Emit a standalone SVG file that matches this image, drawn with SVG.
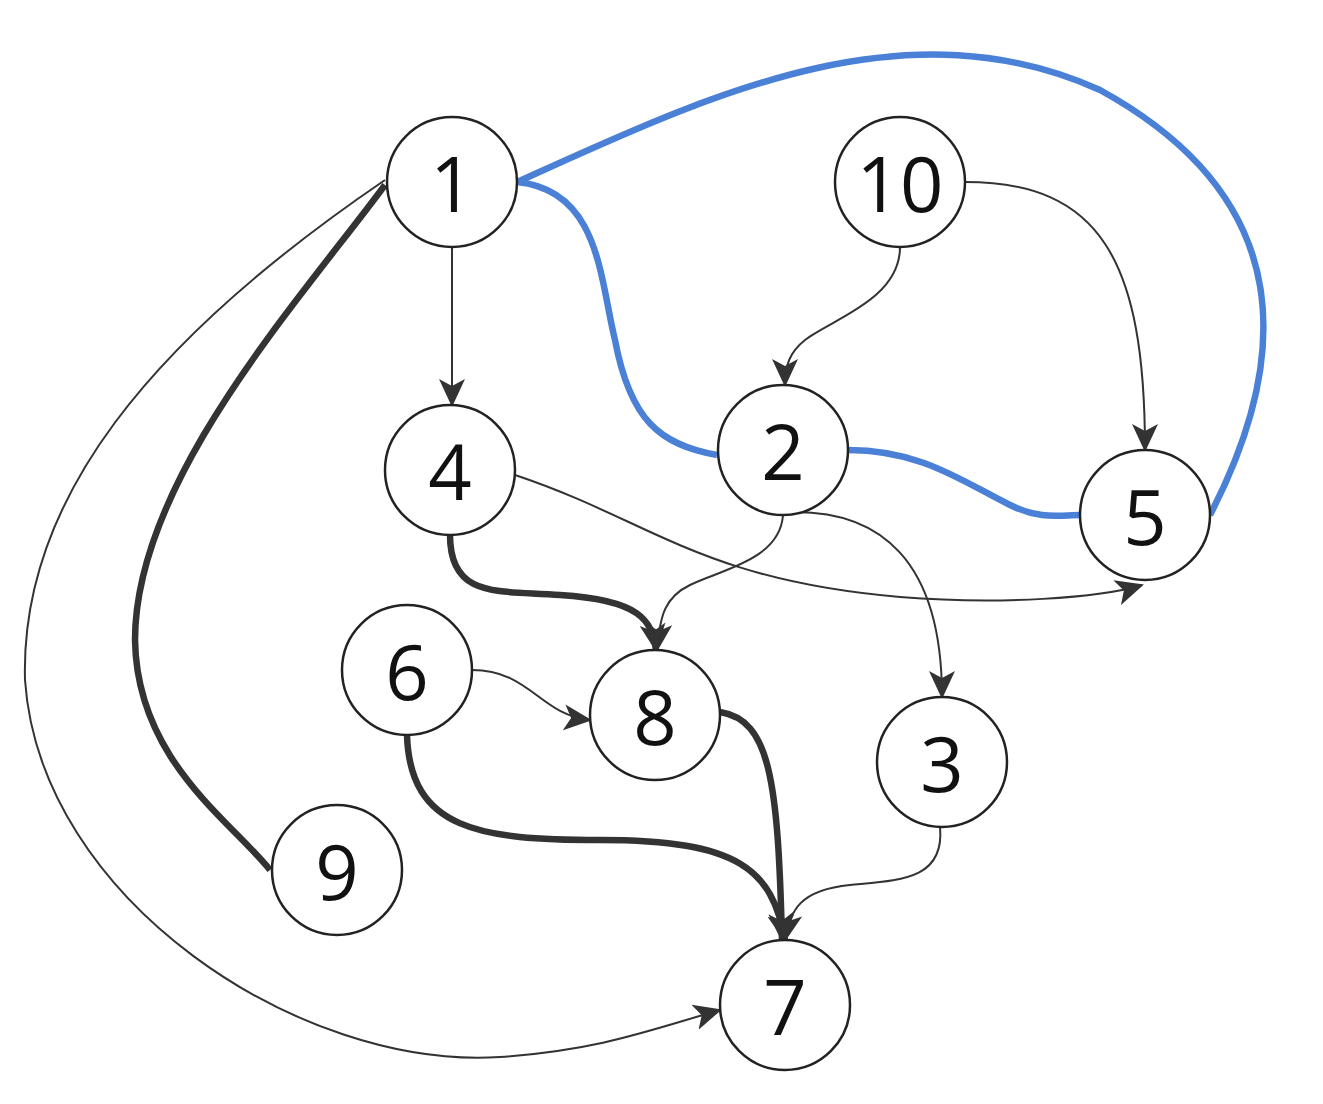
<svg xmlns="http://www.w3.org/2000/svg" width="1323" height="1104" viewBox="0 0 1323 1104">
<style>
.n circle{fill:#fff;stroke:#222;stroke-width:2.5}
.n text{font-family:"Open Sans","DejaVu Sans",sans-serif;font-size:76px;fill:#111;text-anchor:middle;dominant-baseline:central}
.e path{fill:none;stroke:#333}
.t{stroke-width:2}
.k{stroke-width:6.5}
.b{stroke:#4a80d6 !important;stroke-width:6.5}
</style>
<defs>
<marker id="a" markerUnits="userSpaceOnUse" markerWidth="32" markerHeight="32" refX="26" refY="13" orient="auto" viewBox="0 0 32 26">
<path d="M0,0 L28,13 L0,26 L7,13 Z" fill="#333"/>
</marker>
</defs>
<rect width="1323" height="1104" fill="#fff"/>
<g id="edges" class="e">
<path class="b" d="M517,182 C700,100 900,0 1100,90 C1300,200 1290,360 1210,515"/>
<path class="b" d="M517,182 C600,190 600,280 615,340 C630,420 660,445 717,455"/>
<path class="b" d="M848,450 C920,450 960,480 1010,505 C1040,520 1060,515 1080,515"/>
<path class="t" marker-end="url(#a)" d="M452,247 L452,405"/>
<path class="t" marker-end="url(#a)" d="M900,247 C900,300 830,320 805,340 C790,352 785,365 785,385"/>
<path class="t" marker-end="url(#a)" d="M965,182 C1100,182 1145,260 1145,450"/>
<path class="t" marker-end="url(#a)" d="M515,475 C650,520 700,580 900,597 C1000,605 1100,598 1142,585"/>
<path class="t" marker-end="url(#a)" d="M783,515 C780,560 720,570 690,585 C665,597 660,615 657,650"/>
<path class="t" marker-end="url(#a)" d="M790,512 C880,510 942,560 942,697"/>
<path class="k" marker-end="url(#a)" d="M450,535 C450,600 500,590 560,595 C640,600 652,620 656,650"/>
<path class="t" marker-end="url(#a)" d="M472,670 C530,670 540,715 590,720"/>
<path class="k" marker-end="url(#a)" d="M407,735 C410,830 480,840 600,840 C740,840 772,870 785,940"/>
<path class="k" marker-end="url(#a)" d="M720,712 C770,720 778,780 782,940"/>
<path class="t" marker-end="url(#a)" d="M940,827 C945,880 900,880 850,885 C800,890 790,910 785,940"/>
<path class="k" d="M385,185 C300,300 135,480 135,640 C137,760 230,820 270,870"/>
<path class="t" marker-end="url(#a)" d="M385,180 C150,340 20,500 25,680 C40,900 300,1070 500,1057 C600,1050 650,1030 720,1010"/>
</g>
<g id="n1" class="n"><circle cx="452" cy="182" r="65"/><text x="452" y="182">1</text></g>
<g id="n10" class="n"><circle cx="900" cy="182" r="65"/><text x="900" y="182">10</text></g>
<g id="n4" class="n"><circle cx="450" cy="470" r="65"/><text x="450" y="470">4</text></g>
<g id="n2" class="n"><circle cx="783" cy="450" r="65"/><text x="783" y="450">2</text></g>
<g id="n5" class="n"><circle cx="1145" cy="515" r="65"/><text x="1145" y="515">5</text></g>
<g id="n6" class="n"><circle cx="407" cy="670" r="65"/><text x="407" y="670">6</text></g>
<g id="n8" class="n"><circle cx="655" cy="715" r="65"/><text x="655" y="715">8</text></g>
<g id="n3" class="n"><circle cx="942" cy="762" r="65"/><text x="942" y="762">3</text></g>
<g id="n9" class="n"><circle cx="337" cy="870" r="65"/><text x="337" y="870">9</text></g>
<g id="n7" class="n"><circle cx="785" cy="1005" r="65"/><text x="785" y="1005">7</text></g>
</svg>
